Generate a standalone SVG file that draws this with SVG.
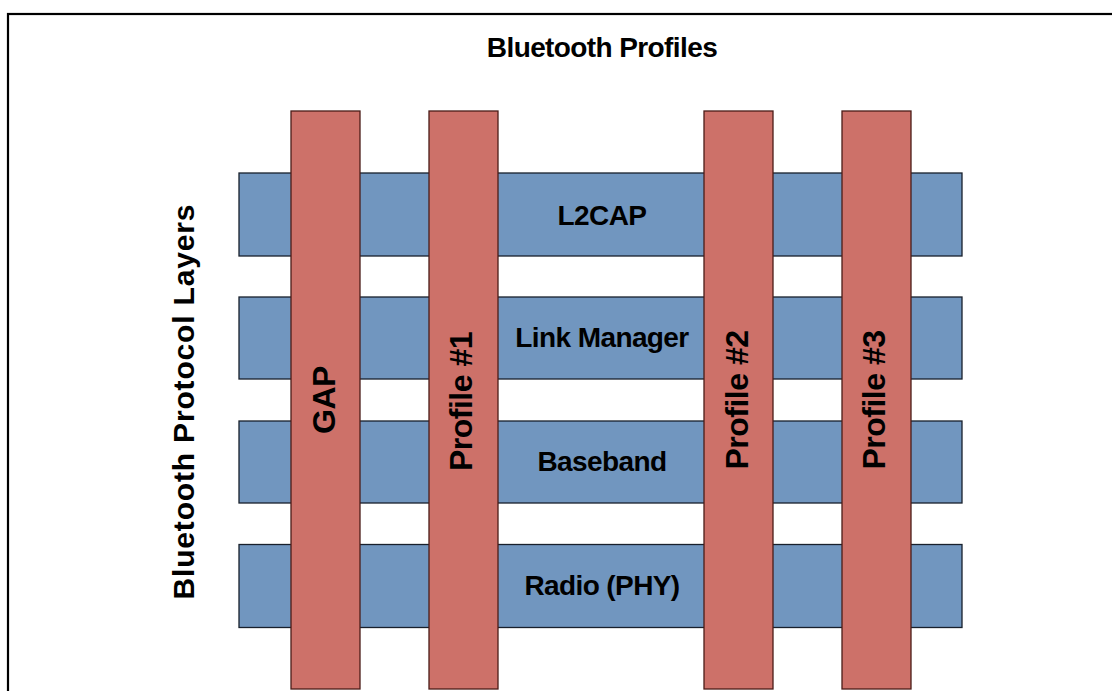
<svg xmlns="http://www.w3.org/2000/svg" width="1112" height="691" viewBox="0 0 1112 691">
<style>
text{font-family:"Liberation Sans",Arial,sans-serif;font-weight:bold;fill:#000}
.layer rect{fill:#7196BF;stroke:#18202c;stroke-width:1.3}
.profile rect{fill:#CD7169;stroke:#4a1c18;stroke-width:1.3}
.lt{font-size:28px;text-anchor:middle;letter-spacing:-0.6px}
.pt{font-size:32px;text-anchor:middle;letter-spacing:-0.5px}
</style>
<rect x="8" y="14" width="1200" height="800" fill="#fff" stroke="#000" stroke-width="2.2"/>
<text id="title" x="602" y="57.3" font-size="28" text-anchor="middle" letter-spacing="-0.6">Bluetooth Profiles</text>
<text id="axis" transform="translate(193.5,402) rotate(-90)" font-size="30" text-anchor="middle" textLength="395" lengthAdjust="spacing">Bluetooth Protocol Layers</text>
<g id="layers">
<g id="l2cap" class="layer"><rect x="239" y="173" width="723" height="83"/><text class="lt" x="602" y="224.5">L2CAP</text></g>
<g id="linkmanager" class="layer"><rect x="239" y="297" width="723" height="82"/><text class="lt" x="602" y="347">Link Manager</text></g>
<g id="baseband" class="layer"><rect x="239" y="421" width="723" height="82"/><text class="lt" x="602" y="471">Baseband</text></g>
<g id="radio" class="layer"><rect x="239" y="544.5" width="723" height="83"/><text class="lt" x="602" y="595">Radio (PHY)</text></g>
</g>
<g id="profiles">
<g id="gap" class="profile"><rect x="291" y="111" width="69" height="578"/><text class="pt" transform="translate(335,400) rotate(-90)">GAP</text></g>
<g id="profile1" class="profile"><rect x="429" y="111" width="69" height="578"/><text class="pt" transform="translate(471.5,401.5) rotate(-90)">Profile #1</text></g>
<g id="profile2" class="profile"><rect x="704" y="111" width="69" height="578"/><text class="pt" transform="translate(748,400) rotate(-90)">Profile #2</text></g>
<g id="profile3" class="profile"><rect x="842" y="111" width="69" height="578"/><text class="pt" transform="translate(885,400) rotate(-90)">Profile #3</text></g>
</g>
<g id="connectors"/>
</svg>
